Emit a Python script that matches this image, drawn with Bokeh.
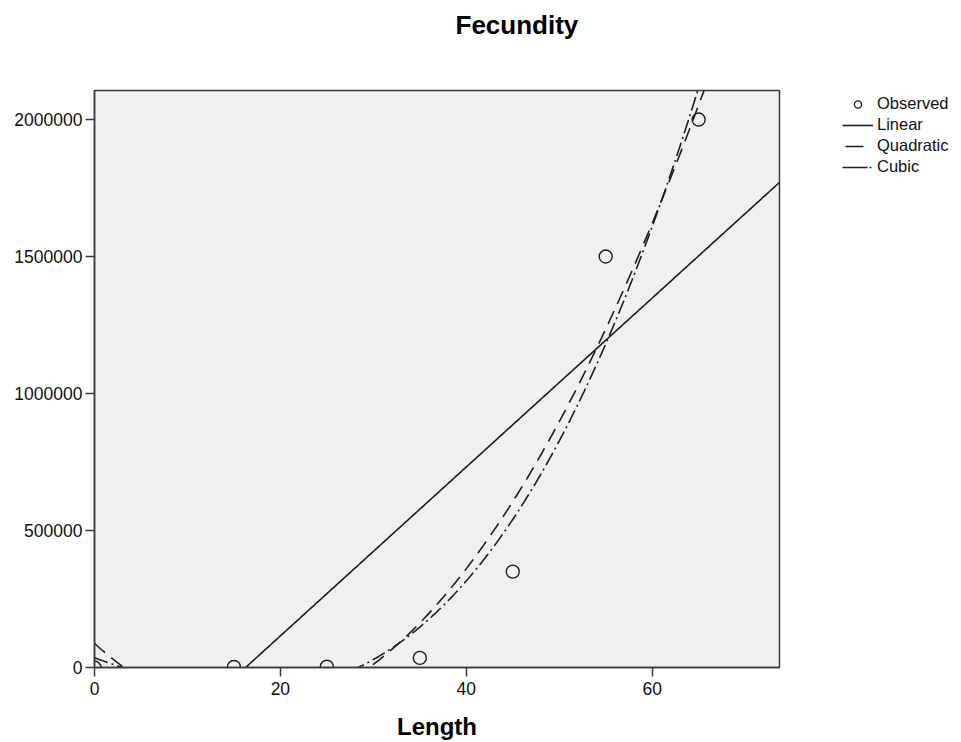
import numpy as np
from bokeh.plotting import figure
from bokeh.layouts import row
from bokeh.models import Range1d, FixedTicker, BasicTickFormatter, Legend, LegendItem, Title
from bokeh.embed import file_html
from bokeh.resources import INLINE

# ---- data ----
length = [0, 15, 25, 35, 45, 55, 65]
fecundity = [0, 2000, 3000, 35000, 350000, 1500000, 2000000]
x_ticks = [0, 20, 40, 60]
y_ticks = [0, 500000, 1000000, 1500000, 2000000]
x_end = 73.7
y_end = 2106000
series_names = ["Observed", "Linear", "Quadratic", "Cubic"]

# fitted curves (least squares on the observed values)
xs = np.linspace(0, x_end, 600)
fit_lin = np.polyval(np.polyfit(length, fecundity, 1), xs)
fit_quad = np.polyval(np.polyfit(length, fecundity, 2), xs)
fit_cub = np.polyval(np.polyfit(length, fecundity, 3), xs)

FONT = "Liberation Sans"
INK = "#1e1e1e"
H = 742

p = figure(width=781, height=H, x_range=Range1d(0, x_end), y_range=Range1d(0, y_end),
           output_backend="svg", toolbar_location=None, title=None,
           min_border_left=94, min_border_right=2, min_border_top=90, min_border_bottom=75,
           background_fill_color="#f0f0f0", border_fill_color="white")
p.outline_line_color = "#3a3a3a"
p.outline_line_width = 1.5
p.grid.visible = False

# title (a blank spacer title keeps the real title near the top)
spacer = Title(text=" ", text_font_size="10px", standoff=38)
p.add_layout(spacer, "above")
title = Title(text="Fecundity", text_font=FONT, text_font_size="26px", text_font_style="bold",
              text_color="black", align="left", offset=361, standoff=0)
p.add_layout(title, "above")

# axes
for ax in (p.xaxis[0], p.yaxis[0]):
    ax.axis_line_color = "#3a3a3a"
    ax.axis_line_width = 1.5
    ax.major_tick_line_color = "#3a3a3a"
    ax.major_tick_line_width = 1.5
    ax.major_tick_in = 0
    ax.major_tick_out = 9
    ax.minor_tick_line_color = None
    ax.major_label_text_font = FONT
    ax.major_label_text_font_size = "17.5px"
    ax.major_label_text_color = "#111111"
    ax.formatter = BasicTickFormatter(use_scientific=False)

p.xaxis[0].ticker = FixedTicker(ticks=x_ticks)
p.yaxis[0].ticker = FixedTicker(ticks=y_ticks)
p.xaxis[0].major_label_standoff = 5
p.yaxis[0].major_label_standoff = 3
p.xaxis[0].axis_label = "Length"
p.xaxis[0].axis_label_text_font = FONT
p.xaxis[0].axis_label_text_font_size = "24px"
p.xaxis[0].axis_label_text_font_style = "bold"
p.xaxis[0].axis_label_text_color = "black"
p.xaxis[0].axis_label_standoff = 15

# glyphs
p.line(xs, fit_lin, line_color=INK, line_width=1.6)
p.line(xs, fit_quad, line_color=INK, line_width=1.6, line_dash="14 8")
p.line(xs, fit_cub, line_color=INK, line_width=1.6, line_dash="14 4 2 4")
p.scatter(length, fecundity, marker="circle", size=13, fill_color=None,
          line_color=INK, line_width=1.4)

# ---- legend panel (separate small canvas to the right) ----
# its ranges lie outside the data, so only the legend keys are seen
q = figure(width=172, height=H, output_backend="svg", toolbar_location=None,
           x_axis_type=None, y_axis_type=None, x_range=Range1d(-2, -1), y_range=Range1d(-2, -1),
           min_border_left=0, min_border_right=0, min_border_top=0, min_border_bottom=0)
q.outline_line_color = None
q.grid.visible = False
k_obs = q.scatter(length, fecundity, marker="circle", size=12, fill_color=None,
                  line_color=INK, line_width=1.4)
k_lin = q.line(length, fecundity, line_color=INK, line_width=1.6)
k_quad = q.line(length, fecundity, line_color=INK, line_width=1.6, line_dash="0 3 18 10")
k_cub = q.line(length, fecundity, line_color=INK, line_width=1.6, line_dash="25 2 2 10")

legend = Legend(items=[LegendItem(label=series_names[0], renderers=[k_obs]),
                       LegendItem(label=series_names[1], renderers=[k_lin]),
                       LegendItem(label=series_names[2], renderers=[k_quad]),
                       LegendItem(label=series_names[3], renderers=[k_cub])],
                location=(61, 491))
legend.padding = 0
legend.margin = 0
legend.spacing = 2
legend.glyph_width = 31
legend.glyph_height = 18
legend.label_height = 18
legend.label_standoff = 4
legend.label_text_font = FONT
legend.label_text_font_size = "16.5px"
legend.label_text_color = "#111111"
legend.border_line_color = None
legend.background_fill_alpha = 0
q.add_layout(legend)

layout = row(p, q)
open("out.html", "w").write(file_html(layout, INLINE))
